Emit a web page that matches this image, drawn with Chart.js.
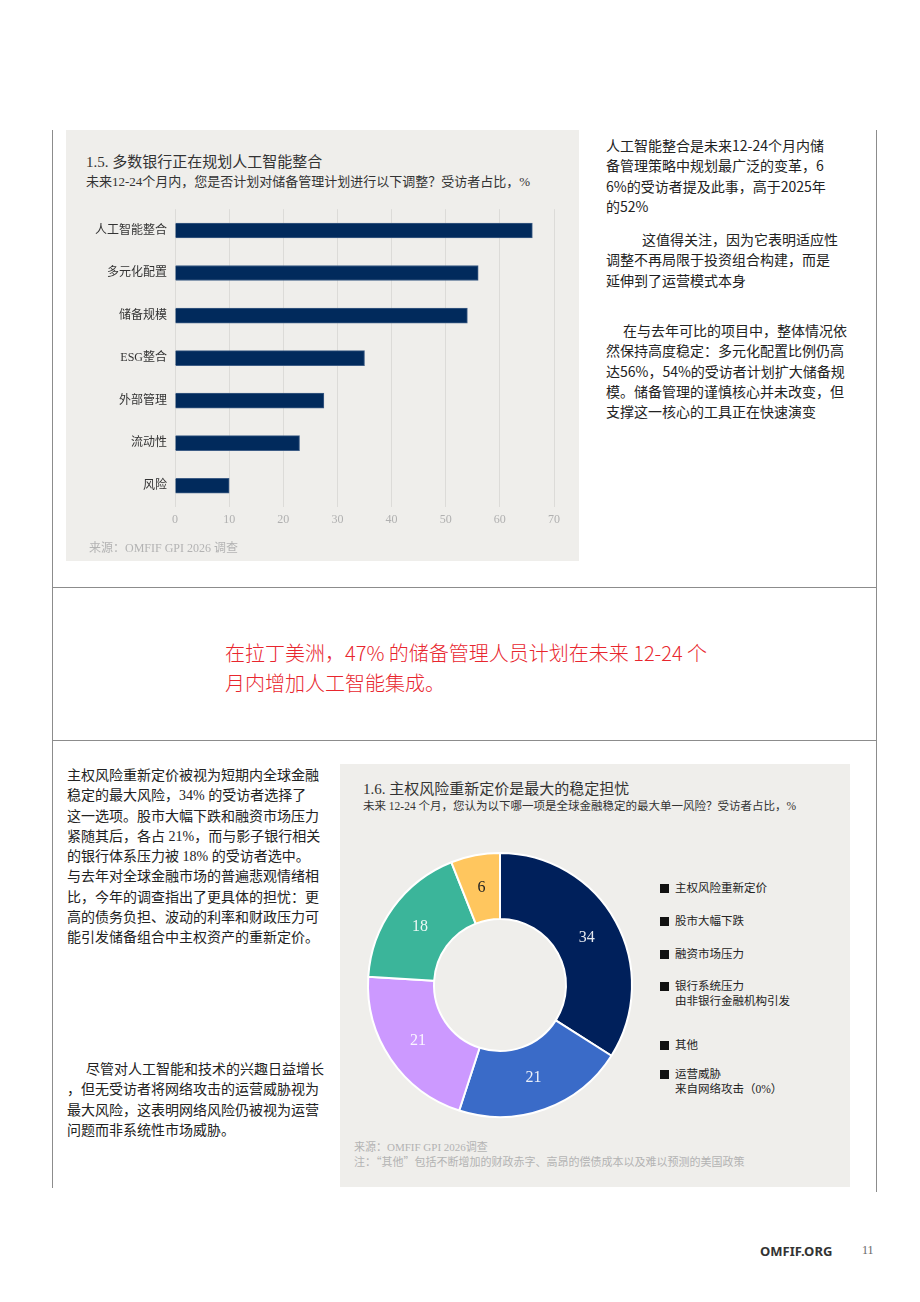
<!DOCTYPE html>
<html lang="zh-CN">
<head>
<meta charset="utf-8">
<title>OMFIF GPI 2026</title>
<script src="https://cdn.jsdelivr.net/npm/chart.js@4.4.1/dist/chart.umd.min.js"></script>
<style>
  html, body { margin: 0; padding: 0; background: #fff; }
  body { width: 920px; height: 1302px; position: relative; overflow: hidden;
         font-family: "Liberation Serif", "Noto Sans CJK SC", serif; color: #222; }
  .abs { position: absolute; }
  .vline { position: absolute; width: 1px; background: #8c8c8c; }
  .hline { position: absolute; height: 1px; background: #8c8c8c; left: 52px; width: 825px; }
  .panel { position: absolute; background: #efeeeb; }
  .ctitle { position: absolute; font-size: 15px; color: #333; white-space: nowrap; }
  .csub { position: absolute; font-size: 13px; color: #333; white-space: nowrap; }
  .src { position: absolute; color: #b3b3b3; white-space: nowrap; }
  .txt { position: absolute; font-size: 14px; line-height: 20.3px; color: #222; white-space: nowrap; }
  .sans { font-family: "Noto Sans CJK SC", "Noto Sans", sans-serif; }
  .red { position: absolute; left: 225px; top: 638px; font-size: 20px; line-height: 30px;
         color: #e8262e; white-space: nowrap; font-family: "Noto Sans CJK SC", sans-serif; font-weight: 300; }
  .leg { position: absolute; left: 660px; font-size: 11.5px; line-height: 15px; color: #222; white-space: nowrap; }
  .leg i { display: inline-block; width: 9px; height: 9px; background: #111; margin-right: 6px; vertical-align: -1px; }
  .leg span.sub { display: block; padding-left: 15px; }
</style>
</head>
<body>

<div class="vline" style="left:52px; top:130px; height:1058px;"></div>
<div class="vline" style="left:876px; top:130px; height:1062px;"></div>
<div class="hline" style="top:587px;"></div>
<div class="hline" style="top:740px;"></div>

<!-- 图 1.5 -->
<div class="panel" style="left:66px; top:130px; width:513px; height:431px;"></div>
<div class="ctitle" style="left:86px; top:150px;">1.5. 多数银行正在规划人工智能整合</div>
<div class="csub" style="left:86px; top:171px;">未来12-24个月内，您是否计划对储备管理计划进行以下调整？受访者占比，%</div>
<canvas id="graficoBarras" class="abs" width="513" height="346" style="left:66px; top:194px;"></canvas>
<div class="src" style="left:89px; top:538px; font-size:12px;">来源：OMFIF GPI 2026 调查</div>

<div class="txt sans" style="left:606px; top:135px;">人工智能整合是未来12-24个月内储<br>备管理策略中规划最广泛的变革，6<br>6%的受访者提及此事，高于2025年<br>的52%</div>
<div class="txt sans" style="left:606px; top:229px;"><span style="padding-left:36px"></span>这值得关注，因为它表明适应性<br>调整不再局限于投资组合构建，而是<br>延伸到了运营模式本身</div>
<div class="txt sans" style="left:606px; top:320px;"><span style="padding-left:17px"></span>在与去年可比的项目中，整体情况依<br>然保持高度稳定：多元化配置比例仍高<br>达56%，54%的受访者计划扩大储备规<br>模。储备管理的谨慎核心并未改变，但<br>支撑这一核心的工具正在快速演变</div>

<div class="red">在拉丁美洲，47% 的储备管理人员计划在未来 12-24 个<br>月内增加人工智能集成。</div>

<!-- 图 1.6 -->
<div class="txt" style="left:67px; top:766px;">主权风险重新定价被视为短期内全球金融<br>稳定的最大风险，34% 的受访者选择了<br>这一选项。股市大幅下跌和融资市场压力<br>紧随其后，各占 21%，而与影子银行相关<br>的银行体系压力被 18% 的受访者选中。<br>与去年对全球金融市场的普遍悲观情绪相<br>比，今年的调查指出了更具体的担忧：更<br>高的债务负担、波动的利率和财政压力可<br>能引发储备组合中主权资产的重新定价。</div>
<div class="txt" style="left:67px; top:1060px;"><span style="padding-left:19px"></span>尽管对人工智能和技术的兴趣日益增长<br>，但无受访者将网络攻击的运营威胁视为<br>最大风险，这表明网络风险仍被视为运营<br>问题而非系统性市场威胁。</div>

<div class="panel" style="left:340px; top:764px; width:510px; height:423px;"></div>
<div class="ctitle" style="left:363px; top:777px;">1.6. 主权风险重新定价是最大的稳定担忧</div>
<div class="csub" style="left:363px; top:797px; font-size:11.5px;">未来 12-24 个月，您认为以下哪一项是全球金融稳定的最大单一风险？受访者占比，%</div>
<canvas id="graficoRosca" class="abs" width="280" height="280" style="left:360px; top:845px;"></canvas>
<div id="legenda"></div>
<div class="src" style="left:354px; top:1140px; font-size:11px; line-height:14px;">来源：OMFIF GPI 2026调查<br>注：<span style="font-family:'Noto Sans CJK SC',sans-serif">“其他”</span>包括不断增加的财政赤字、高昂的偿债成本以及难以预测的美国政策</div>

<div class="abs sans" style="left:760px; top:1242px; font-size:13px; font-weight:bold; color:#333; font-family:'Noto Sans','Open Sans',sans-serif;">OMFIF.ORG</div>
<div class="abs" style="left:862px; top:1243px; font-size:12px; color:#666;">11</div>

<script>
// Dados do gráfico de barras (1.5)
var categoriasBarras = ['人工智能整合', '多元化配置', '储备规模', 'ESG整合', '外部管理', '流动性', '风险'];
var valoresBarras = [66, 56, 54, 35, 27.5, 23, 10];
var eixoXMin = 0;
var eixoXMax = 70;
var eixoXPasso = 10;

// Dados do gráfico de rosca (1.6)
var categoriasRosca = ['主权风险重新定价', '股市大幅下跌', '融资市场压力', '银行系统压力', '其他', '运营威胁'];
var subtitulosRosca = ['', '', '', '由非银行金融机构引发', '', '来自网络攻击（0%）'];
var valoresRosca = [34, 21, 21, 18, 6, 0];
var coresRosca = ['#00205b', '#3a6bc8', '#cc99ff', '#3bb59a', '#ffc65e', '#e0e0e0'];
var coresRotulos = ['rgba(255,255,255,0.9)', 'rgba(255,255,255,0.9)', 'rgba(255,255,255,0.9)', 'rgba(255,255,255,0.9)', '#222', '#222'];

var fonteSerif = '"Liberation Serif", "Noto Sans CJK SC", serif';

// Gráfico de barras horizontais
function criarGraficoBarras() {
    var ctx = document.getElementById('graficoBarras').getContext('2d');
    new Chart(ctx, {
        type: 'bar',
        data: {
            labels: categoriasBarras,
            datasets: [{
                data: valoresBarras,
                backgroundColor: '#012a5c',
                borderColor: '#3d5c85',
                borderWidth: 1,
                barThickness: 15
            }]
        },
        options: {
            indexAxis: 'y',
            responsive: false,
            animation: false,
            layout: { padding: { top: 9, right: 25, left: 0, bottom: 0 } },
            plugins: { legend: { display: false }, tooltip: { enabled: false } },
            scales: {
                x: {
                    min: eixoXMin,
                    max: eixoXMax,
                    ticks: { stepSize: eixoXPasso, color: '#b0b0b0', padding: 6, font: { family: fonteSerif, size: 12 } },
                    grid: { color: '#dcdbd8', drawTicks: false },
                    border: { display: false },
                    afterFit: function (scale) { scale.height = 33; }
                },
                y: {
                    ticks: { color: '#333', padding: 8, font: { family: fonteSerif, size: 12 } },
                    grid: { display: false, drawTicks: false },
                    border: { display: false },
                    afterFit: function (scale) { scale.width = 109; }
                }
            }
        }
    });
}

// Plugin simples para escrever os valores dentro das fatias
var rotulosFatias = {
    id: 'rotulosFatias',
    afterDatasetsDraw: function (chart) {
        var c = chart.ctx;
        var meta = chart.getDatasetMeta(0);
        c.save();
        c.font = '16px ' + fonteSerif;
        c.textAlign = 'center';
        c.textBaseline = 'middle';
        meta.data.forEach(function (arc, i) {
            var v = chart.data.datasets[0].data[i];
            if (!v) return;
            var p = arc.getProps(['x', 'y', 'startAngle', 'endAngle', 'innerRadius', 'outerRadius'], true);
            var meio = (p.startAngle + p.endAngle) / 2;
            var r = (p.innerRadius + p.outerRadius) / 2;
            c.fillStyle = coresRotulos[i];
            c.fillText(String(v), p.x + Math.cos(meio) * r, p.y + Math.sin(meio) * r);
        });
        c.restore();
    }
};

function criarGraficoRosca() {
    var ctx = document.getElementById('graficoRosca').getContext('2d');
    new Chart(ctx, {
        type: 'doughnut',
        data: {
            labels: categoriasRosca,
            datasets: [{
                data: valoresRosca,
                backgroundColor: coresRosca,
                borderColor: '#ffffff',
                borderWidth: 2
            }]
        },
        options: {
            responsive: false,
            animation: false,
            cutout: '50%',
            layout: { padding: 7 },
            plugins: { legend: { display: false }, tooltip: { enabled: false } }
        },
        plugins: [rotulosFatias]
    });
}

// Legenda em HTML (quadrados pretos, como no original)
function criarLegenda() {
    var linhasY = [881, 914, 947, 979, 1038, 1067];
    var html = '';
    categoriasRosca.forEach(function (nome, i) {
        html += '<div class="leg" style="top:' + linhasY[i] + 'px"><i></i>' + nome;
        if (subtitulosRosca[i]) {
            html += '<span class="sub">' + subtitulosRosca[i] + '</span>';
        }
        html += '</div>';
    });
    document.getElementById('legenda').innerHTML = html;
}

criarGraficoBarras();
criarGraficoRosca();
criarLegenda();
</script>
</body>
</html>
